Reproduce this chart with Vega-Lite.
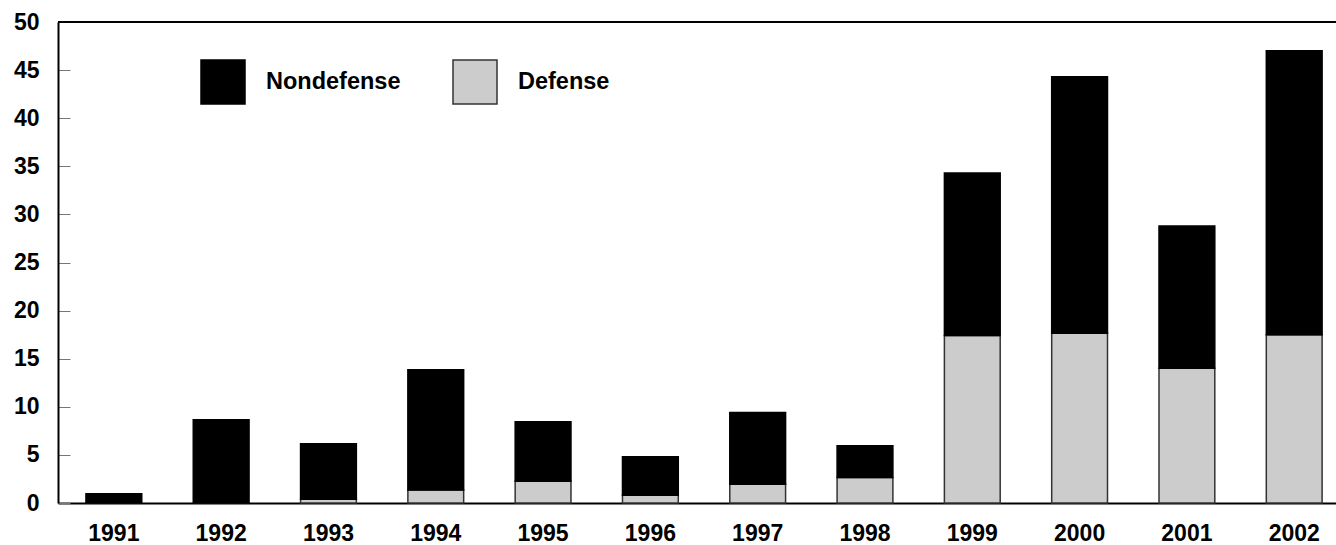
{
  "$schema": "https://vega.github.io/schema/vega-lite/v6.json",
  "autosize": {"type": "none"},
  "padding": {"left": 58, "top": 22, "right": 0, "bottom": 42},
  "width": 1278,
  "height": 481,
  "config": {
    "view": {"stroke": null},
    "font": "Liberation Sans",
    "axis": {"labelFont": "Liberation Sans", "labelFontWeight": "bold", "labelFontSize": 23, "labelColor": "black", "grid": false, "title": null}
  },
  "data": {
    "values": [
      {"year": "1991", "type": "Defense", "value": 0},
      {"year": "1991", "type": "Nondefense", "value": 0.95},
      {"year": "1992", "type": "Defense", "value": 0},
      {"year": "1992", "type": "Nondefense", "value": 8.65},
      {"year": "1993", "type": "Defense", "value": 0.4},
      {"year": "1993", "type": "Nondefense", "value": 5.75},
      {"year": "1994", "type": "Defense", "value": 1.35},
      {"year": "1994", "type": "Nondefense", "value": 12.5},
      {"year": "1995", "type": "Defense", "value": 2.25},
      {"year": "1995", "type": "Nondefense", "value": 6.2},
      {"year": "1996", "type": "Defense", "value": 0.8},
      {"year": "1996", "type": "Nondefense", "value": 4.0},
      {"year": "1997", "type": "Defense", "value": 1.95},
      {"year": "1997", "type": "Nondefense", "value": 7.45},
      {"year": "1998", "type": "Defense", "value": 2.65},
      {"year": "1998", "type": "Nondefense", "value": 3.3},
      {"year": "1999", "type": "Defense", "value": 17.4},
      {"year": "1999", "type": "Nondefense", "value": 16.9},
      {"year": "2000", "type": "Defense", "value": 17.65},
      {"year": "2000", "type": "Nondefense", "value": 26.65},
      {"year": "2001", "type": "Defense", "value": 14.0},
      {"year": "2001", "type": "Nondefense", "value": 14.8},
      {"year": "2002", "type": "Defense", "value": 17.5},
      {"year": "2002", "type": "Nondefense", "value": 29.5}
    ]
  },
  "layer": [
    {
      "mark": {"type": "bar", "strokeWidth": 1.5},
      "encoding": {
        "x": {
          "field": "year", "type": "ordinal",
          "scale": {"paddingInner": 0.48, "paddingOuter": 0.195, "align": 0.668},
          "axis": {"domainColor": "black", "domainWidth": 2, "ticks": false, "labelAngle": 0, "labelPadding": 19}
        },
        "y": {
          "field": "value", "type": "quantitative", "stack": "zero",
          "scale": {"domain": [0, 50], "nice": false},
          "axis": {"values": [0, 5, 10, 15, 20, 25, 30, 35, 40, 45, 50], "domainColor": "black", "domainWidth": 2, "tickColor": "#777777", "tickWidth": 1, "tickSize": -12, "labelPadding": 31}
        },
        "color": {
          "field": "type", "type": "nominal",
          "scale": {"domain": ["Nondefense", "Defense"], "range": ["#000000", "#cccccc"]},
          "legend": {
            "orient": "none", "legendX": 142, "legendY": 37, "direction": "horizontal", "title": null,
            "symbolType": "square", "symbolSize": 1936, "symbolStrokeWidth": 1.5, "symbolOpacity": 1,
            "labelFont": "Liberation Sans", "labelFontWeight": "bold", "labelFontSize": 23.5, "labelColor": "black",
            "labelOffset": 20, "columnPadding": 49, "padding": 0
          }
        },
        "stroke": {
          "field": "type", "type": "nominal",
          "scale": {"domain": ["Nondefense", "Defense"], "range": ["#000000", "#333333"]},
          "legend": null
        },
        "order": {"field": "type", "sort": "ascending"}
      }
    },
    {
      "mark": {"type": "rule", "color": "black", "strokeWidth": 2},
      "encoding": {"y": {"datum": 50}}
    }
  ]
}
